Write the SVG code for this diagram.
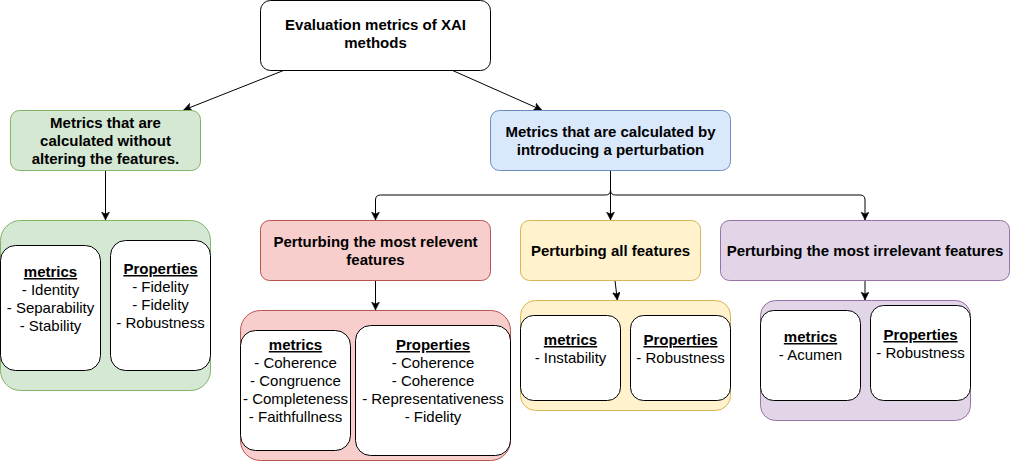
<svg xmlns="http://www.w3.org/2000/svg" width="1011" height="461" viewBox="0 0 1011 461">
<style>
.t{font-family:"Liberation Sans",Arial,sans-serif;font-size:15px;fill:#000;text-anchor:middle}
.b{font-weight:bold}
.u{font-weight:bold;text-decoration:underline}
.w{fill:#fff;stroke:#000;stroke-width:1}
.e{fill:none;stroke:#000;stroke-width:1}
.green{fill:#d5e8d4;stroke:#82b366}
.blue{fill:#dae8fc;stroke:#6c8ebf}
.red{fill:#f8cecc;stroke:#b85450}
.yellow{fill:#fff2cc;stroke:#d6b656}
.purple{fill:#e1d5e7;stroke:#9673a6}
</style>
<defs>
<marker id="ah" markerWidth="10" markerHeight="10" refX="8" refY="4" orient="auto" markerUnits="userSpaceOnUse">
<path d="M0,0 L8,4 L0,8 L2,4 Z" fill="#000" stroke="#000" stroke-width="0.5"/>
</marker>
</defs>
<g id="connectors">
<path class="e" d="M283,70.7 L183.7,110" marker-end="url(#ah)"/>
<path class="e" d="M453,70.7 L541.7,110" marker-end="url(#ah)"/>
<path class="e" d="M105.5,170.5 L105.5,220" marker-end="url(#ah)"/>
<path class="e" d="M610.5,170.5 L610.5,190 Q610.5,195 605.5,195 L380.5,195 Q375.5,195 375.5,200 L375.5,220" marker-end="url(#ah)"/>
<path class="e" d="M610.5,170.5 L610.5,220" marker-end="url(#ah)"/>
<path class="e" d="M610.5,170.5 L610.5,190 Q610.5,195 615.5,195 L860,195 Q865,195 865,200 L865,220" marker-end="url(#ah)"/>
<path class="e" d="M375.5,280.5 L375.5,310" marker-end="url(#ah)"/>
<path class="e" d="M615,280.5 L617.3,300" marker-end="url(#ah)"/>
<path class="e" d="M865,280.5 L865,300" marker-end="url(#ah)"/>
</g>
<g id="root">
<rect class="w" x="260.5" y="0.5" width="230" height="70" rx="10"/>
<text class="t b" x="375.5" y="30">Evaluation metrics of XAI</text>
<text class="t b" x="375.5" y="48">methods</text>
</g>
<g id="no-alter">
<rect class="green" x="10.5" y="110.5" width="190" height="60" rx="9"/>
<text class="t b" x="105.5" y="128">Metrics that are</text>
<text class="t b" x="105.5" y="146">calculated without</text>
<text class="t b" x="105.5" y="164">altering the features.</text>
</g>
<g id="perturbation">
<rect class="blue" x="490.5" y="110.5" width="240" height="60" rx="9"/>
<text class="t b" x="610.5" y="137">Metrics that are calculated by</text>
<text class="t b" x="610.5" y="155">introducing a perturbation</text>
</g>
<g id="relevant">
<rect class="red" x="260.5" y="220.5" width="230" height="60" rx="9"/>
<text class="t b" x="375.5" y="247">Perturbing the most relevent</text>
<text class="t b" x="375.5" y="265">features</text>
</g>
<g id="all">
<rect class="yellow" x="520.5" y="220.5" width="180" height="60" rx="9"/>
<text class="t b" x="610.5" y="256">Perturbing all features</text>
</g>
<g id="irrelevant">
<rect class="purple" x="720.5" y="220.5" width="289" height="60" rx="9"/>
<text class="t b" x="865" y="256">Perturbing the most irrelevant features</text>
</g>
<g id="green-group">
<rect class="green" x="0.5" y="220.5" width="210" height="170" rx="20"/>
<rect class="w" x="0.5" y="245.5" width="100" height="125" rx="15"/>
<text class="t u" x="50.5" y="277">metrics</text>
<text class="t" x="50.5" y="295">- Identity</text>
<text class="t" x="50.5" y="313">- Separability</text>
<text class="t" x="50.5" y="331">- Stability</text>
<rect class="w" x="110.5" y="240.5" width="100" height="130" rx="15"/>
<text class="t u" x="160.5" y="274">Properties</text>
<text class="t" x="160.5" y="292">- Fidelity</text>
<text class="t" x="160.5" y="310">- Fidelity</text>
<text class="t" x="160.5" y="328">- Robustness</text>
</g>
<g id="red-group">
<rect class="red" x="240.5" y="310.5" width="270" height="150" rx="20"/>
<rect class="w" x="240.5" y="330.5" width="110" height="120" rx="15"/>
<text class="t u" x="295.5" y="350">metrics</text>
<text class="t" x="295.5" y="368">- Coherence</text>
<text class="t" x="295.5" y="386">- Congruence</text>
<text class="t" x="295.5" y="404">- Completeness</text>
<text class="t" x="295.5" y="422">- Faithfullness</text>
<rect class="w" x="355.5" y="325.5" width="155" height="130" rx="15"/>
<text class="t u" x="433" y="350">Properties</text>
<text class="t" x="433" y="368">- Coherence</text>
<text class="t" x="433" y="386">- Coherence</text>
<text class="t" x="433" y="404">- Representativeness</text>
<text class="t" x="433" y="422">- Fidelity</text>
</g>
<g id="yellow-group">
<rect class="yellow" x="520.5" y="300.5" width="210" height="110" rx="15"/>
<rect class="w" x="520.5" y="315.5" width="100" height="85" rx="13"/>
<text class="t u" x="570.5" y="345">metrics</text>
<text class="t" x="570.5" y="363">- Instability</text>
<rect class="w" x="630.5" y="315.5" width="100" height="85" rx="13"/>
<text class="t u" x="680.5" y="345">Properties</text>
<text class="t" x="680.5" y="363">- Robustness</text>
</g>
<g id="purple-group">
<rect class="purple" x="760.5" y="300.5" width="210" height="120" rx="15"/>
<rect class="w" x="760.5" y="310.5" width="100" height="90" rx="13"/>
<text class="t u" x="810.5" y="342">metrics</text>
<text class="t" x="810.5" y="360">- Acumen</text>
<rect class="w" x="870.5" y="305.5" width="100" height="95" rx="13"/>
<text class="t u" x="920.5" y="340">Properties</text>
<text class="t" x="920.5" y="358">- Robustness</text>
</g>
</svg>
